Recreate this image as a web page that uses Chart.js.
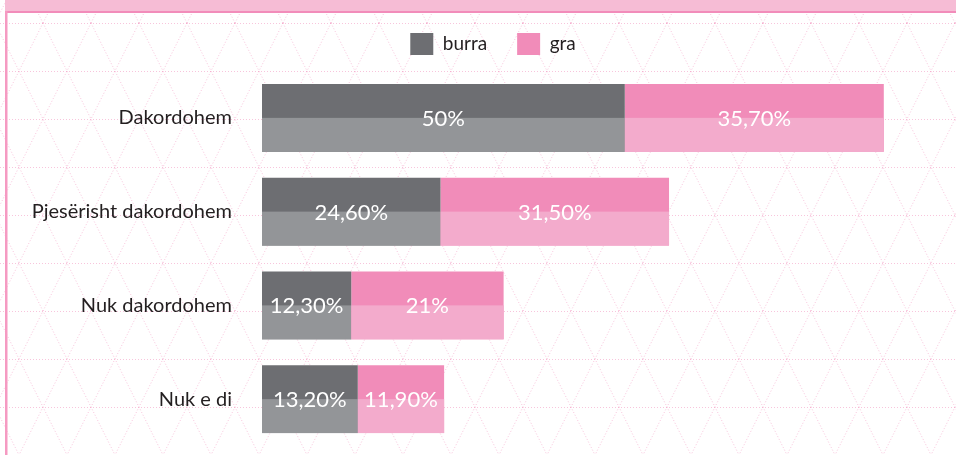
<!DOCTYPE html>
<html>
<head>
<meta charset="utf-8">
<script src="https://cdn.jsdelivr.net/npm/chart.js@4"></script>
<style>
  html, body { margin: 0; padding: 0; background: #fff; }
  #wrap { width: 956px; height: 455px; position: relative; }
</style>
</head>
<body>
<div id="wrap"><canvas id="chart"></canvas></div>
<script>
const categories = ["Dakordohem", "Pjesërisht dakordohem", "Nuk dakordohem", "Nuk e di"];
const seriesNames = ["burra", "gra"];
const burraValues = [50, 24.6, 12.3, 13.2];
const graValues = [35.7, 31.5, 21, 11.9];

const FONT = "Lato";

function fmt(v) {
  return (Number.isInteger(v) ? String(v) : v.toFixed(2).replace(".", ",")) + "%";
}

// pink triangle grid + top band + left rule
const backdrop = {
  id: "backdrop",
  afterLayout(chart) {
    // legend sits a little right of the page centre in the original
    chart.legend.left = 71;
  },
  beforeDraw(chart) {
    const ctx = chart.ctx;
    const w = chart.width, h = chart.height;
    ctx.save();
    ctx.fillStyle = "#fff";
    ctx.fillRect(0, 0, w, h);

    ctx.strokeStyle = "rgba(241,140,185,0.5)";
    ctx.lineWidth = 1;
    ctx.setLineDash([1, 2]);
    ctx.beginPath();
    for (let y = 23; y < h; y += 48) {
      ctx.moveTo(0, y + 0.5);
      ctx.lineTo(w, y + 0.5);
    }
    for (let n = -20; n < 40; n++) {
      const x0 = 43 + 48 * n;
      ctx.moveTo(x0, 23);
      ctx.lineTo(x0 + (h - 23 + 48) / 2, h + 48);
      ctx.moveTo(x0, 23);
      ctx.lineTo(x0 - (h - 23 + 48) / 2, h + 48);
      ctx.moveTo(x0, 23);
      ctx.lineTo(x0 + 12, -1);
      ctx.moveTo(x0, 23);
      ctx.lineTo(x0 - 12, -1);
    }
    ctx.stroke();
    ctx.setLineDash([]);

    ctx.fillStyle = "#f6bcd5";
    ctx.fillRect(5, 0, w - 5, 11);
    ctx.fillStyle = "#f28cba";
    ctx.fillRect(5, 11, w - 5, 2);
    ctx.fillStyle = "#f59ac2";
    ctx.fillRect(5, 11, 2.5, h - 11);
    ctx.restore();
  }
};

// lighter lower half of each bar, then the value labels
const barDecor = {
  id: "barDecor",
  afterDatasetsDraw(chart) {
    const ctx = chart.ctx;
    ctx.save();
    chart.data.datasets.forEach((ds, i) => {
      const meta = chart.getDatasetMeta(i);
      meta.data.forEach(el => {
        const left = Math.min(el.base, el.x);
        const right = Math.max(el.base, el.x);
        ctx.fillStyle = ds.lowerColor;
        ctx.fillRect(left, el.y, right - left, el.height / 2);
      });
    });
    ctx.fillStyle = "#fff";
    ctx.font = "22px " + FONT;
    ctx.textAlign = "center";
    ctx.textBaseline = "middle";
    chart.data.datasets.forEach((ds, i) => {
      const meta = chart.getDatasetMeta(i);
      meta.data.forEach((el, j) => {
        const cx = (el.base + el.x) / 2;
        ctx.fillText(fmt(ds.data[j]), cx, el.y + 1);
      });
    });
    ctx.restore();
  }
};

new Chart(document.getElementById("chart"), {
  type: "bar",
  data: {
    labels: categories,
    datasets: [
      {
        label: seriesNames[0],
        data: burraValues,
        backgroundColor: "#6d6e72",
        lowerColor: "#939598",
        borderWidth: 0
      },
      {
        label: seriesNames[1],
        data: graValues,
        backgroundColor: "#f18cb9",
        lowerColor: "#f3abcc",
        borderWidth: 0
      }
    ]
  },
  options: {
    indexAxis: "y",
    responsive: true,
    maintainAspectRatio: false,
    animation: false,
    devicePixelRatio: 1,
    layout: { padding: { top: 3, left: 0, right: 41, bottom: 9 } },
    datasets: {
      bar: { categoryPercentage: 1, barPercentage: 0.725 }
    },
    plugins: {
      legend: {
        position: "top",
        labels: {
          boxWidth: 23,
          boxHeight: 22,
          padding: 30,
          color: "#231f20",
          font: { family: FONT, size: 19 }
        }
      },
      tooltip: { enabled: false }
    },
    scales: {
      x: {
        position: "top",
        stacked: true,
        min: 0,
        max: 90,
        ticks: { display: false },
        grid: { display: false },
        border: { display: false },
        afterFit(scale) { scale.height = 6; }
      },
      y: {
        stacked: true,
        grid: { display: false },
        border: { display: false },
        ticks: {
          padding: 22,
          color: "#231f20",
          font: { family: FONT, size: 20 }
        },
        afterFit(scale) {
          scale.width = 262;
          scale.paddingTop = 0;
          scale.paddingBottom = 0;
        }
      }
    }
  },
  plugins: [backdrop, barDecor]
});
</script>
</body>
</html>
